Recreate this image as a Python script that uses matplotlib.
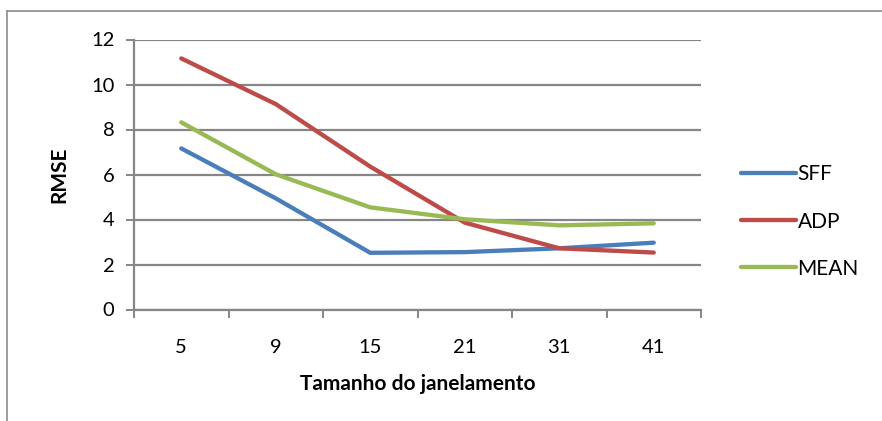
import matplotlib
matplotlib.use("Agg")
import matplotlib.pyplot as plt
from matplotlib.lines import Line2D

# Window sizes and RMSE per method
window_sizes = ["5", "9", "15", "21", "31", "41"]
sff = [7.16, 4.94, 2.52, 2.55, 2.72, 2.97]
adp = [11.16, 9.13, 6.35, 3.86, 2.72, 2.53]
mean = [8.32, 6.01, 4.54, 4.01, 3.74, 3.83]

series_names = ["SFF", "ADP", "MEAN"]
series_colors = ["#4A7EBB", "#BE4B48", "#98B954"]

plt.rcParams["font.family"] = ["Lato", "DejaVu Sans"]

fig = plt.figure(figsize=(8.82, 4.21), dpi=100)
ax = fig.add_axes([134 / 882, 1 - 309.5 / 421, (701 - 134) / 882, (309.5 - 39.5) / 421])

grid_col = "#868686"
x = list(range(len(window_sizes)))
for vals, name, col in zip([sff, adp, mean], series_names, series_colors):
    ax.plot(x, vals, color=col, lw=3.1, solid_capstyle="round",
            solid_joinstyle="round", label=name, zorder=3)

ax.set_xlim(-0.5, len(window_sizes) - 0.5)
ax.set_ylim(0, 12)
ax.set_yticks(range(0, 13, 2))
ax.set_xticks(x)
ax.set_xticklabels(window_sizes)
ax.set_xticks([i - 0.5 for i in range(len(window_sizes) + 1)], minor=True)

ax.yaxis.grid(True, color=grid_col, lw=1.6)
ax.set_axisbelow(True)
for s in ["top", "right"]:
    ax.spines[s].set_visible(False)
for s in ["left", "bottom"]:
    ax.spines[s].set_color(grid_col)
    ax.spines[s].set_linewidth(1.6)

ax.tick_params(axis="y", length=5.5, width=1.4, color=grid_col, pad=8.5,
               labelsize=14.5, labelcolor="black")
ax.tick_params(axis="x", which="major", length=0, pad=21, labelsize=14.5,
               labelcolor="black")
ax.tick_params(axis="x", which="minor", length=5.5, width=1.4, color=grid_col)

ax.set_xlabel("Tamanho do janelamento", fontsize=15, fontweight="bold", labelpad=13)
ax.set_ylabel("RMSE", fontsize=15, fontweight="bold", labelpad=16)

leg = fig.legend(loc="center left", bbox_to_anchor=(733 / 882, 1 - 221.5 / 421),
                 frameon=False, fontsize=15, handlelength=2.6, handletextpad=0.1,
                 labelspacing=1.3, borderaxespad=0)

# chart frame
fig.add_artist(Line2D([7 / 882, 1.0], [1 - 11 / 421, 1 - 11 / 421],
                      transform=fig.transFigure, color="#8C8C8C", lw=1.2))
fig.add_artist(Line2D([7 / 882, 7 / 882], [0.0, 1 - 11 / 421],
                      transform=fig.transFigure, color="#8C8C8C", lw=1.2))

fig.savefig("out.png", dpi=100)
